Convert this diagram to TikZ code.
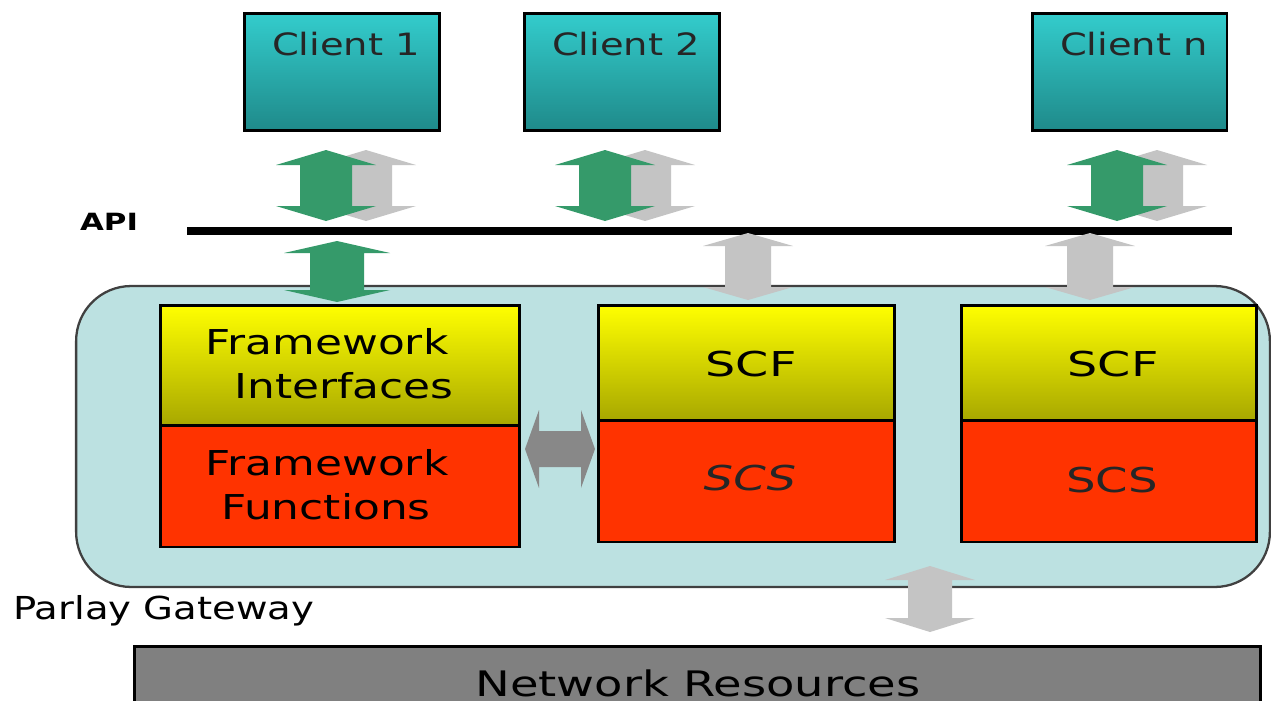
\documentclass[tikz,border=0pt]{standalone}
\usepackage{fontspec}
\setmainfont{DejaVu Sans}
\definecolor{tealtop}{HTML}{33CCCC}
\definecolor{tealbot}{HTML}{1F8A8A}
\definecolor{arrgreen}{HTML}{359A6A}
\definecolor{arrlight}{HTML}{C4C4C4}
\definecolor{arrdark}{HTML}{888888}
\definecolor{gwfill}{HTML}{BCE1E1}
\definecolor{yelltop}{HTML}{FFFF00}
\definecolor{yellmid}{HTML}{EDED00}
\definecolor{yellbot}{HTML}{A8A800}
\definecolor{redfill}{HTML}{FF3300}
\definecolor{netfill}{HTML}{808080}
\newcommand\wide[2]{\scalebox{#1}[1]{#2}}
% vertical double block arrow: cx, ytop, ybot, shaft half, head half, head length, colour
\newcommand\vdarrow[7]{%
  \fill[#7] (#1,#2) -- ({#1+#5},{#2+#6}) -- ({#1+#4},{#2+#6}) -- ({#1+#4},{#3-#6})
   -- ({#1+#5},{#3-#6}) -- (#1,#3) -- ({#1-#5},{#3-#6}) -- ({#1-#4},{#3-#6})
   -- ({#1-#4},{#2+#6}) -- ({#1-#5},{#2+#6}) -- cycle;}
% horizontal double block arrow: cy, xleft, xright, shaft half, head half, head length, colour
\newcommand\hdarrow[7]{%
  \fill[#7] (#2,#1) -- ({#2+#6},{#1-#5}) -- ({#2+#6},{#1-#4}) -- ({#3-#6},{#1-#4})
   -- ({#3-#6},{#1-#5}) -- (#3,#1) -- ({#3-#6},{#1+#5}) -- ({#3-#6},{#1+#4})
   -- ({#2+#6},{#1+#4}) -- ({#2+#6},{#1+#5}) -- cycle;}
\begin{document}
\begin{tikzpicture}[x=0.02cm,y=-0.02cm,
  client/.style={draw=black, line width=1.7pt, top color=tealtop, bottom color=tealbot,
    minimum width=3.9cm, minimum height=2.34cm, inner sep=0pt},
  upper/.style={draw=black, line width=1.7pt, top color=yelltop, middle color=yellmid, bottom color=yellbot,
    inner sep=0pt, align=center},
  lower/.style={draw=black, line width=1.7pt, fill=redfill, inner sep=0pt, align=center},
  ctext/.style={font=\fontsize{17.5}{20}\selectfont, text=black!85, inner sep=0pt},
  btext/.style={font=\fontsize{19.5}{25}\selectfont, inner sep=0pt, align=center},
]
\clip (0,0) rectangle (1271,700);
\fill[white] (0,0) rectangle (1271,700);

% clients
\node[client] (c1) at (342,72) {};
\node[client] (c2) at (622,72) {};
\node[client] (cn) at (1129.5,72) {};
\node[ctext] (c1t) at (346,44) {\wide{1.25}{Client 1}};
\node[ctext] (c2t) at (626,44) {\wide{1.25}{Client 2}};
\node[ctext] (cnt) at (1134,44) {\wide{1.25}{Client n}};

% arrows between clients and API
\vdarrow{366}{150}{221}{26}{50}{15}{arrlight}
\vdarrow{326}{150}{221}{26}{50}{15}{arrgreen}
\vdarrow{645}{150}{221}{26}{50}{15}{arrlight}
\vdarrow{605}{150}{221}{26}{50}{15}{arrgreen}
\vdarrow{1157}{150}{221}{26}{50}{15}{arrlight}
\vdarrow{1117}{150}{221}{26}{50}{15}{arrgreen}

% API line
\coordinate (apiL) at (187,231);
\coordinate (apiR) at (1232,231);
\draw[line width=4.4pt] (apiL) -- (apiR);
\node[font=\fontsize{13.5}{15}\selectfont\bfseries, inner sep=0pt] (api) at (109,222) {\wide{1.3}{API}};

% gateway
\node[draw=black!75, line width=1.3pt, fill=gwfill, rounded corners=1.1cm,
  minimum width=23.88cm, minimum height=6.02cm, inner sep=0pt] (gw) at (673,436.5) {};

% arrows between API and gateway
\vdarrow{748}{233}{300}{23}{45}{13}{arrlight}
\vdarrow{1090}{233}{300}{23}{45}{13}{arrlight}
\vdarrow{337}{241}{302}{27}{53}{12}{arrgreen}

% framework block
\node[upper, minimum width=7.2cm, minimum height=2.4cm] (fi) at (340,365) {};
\node[lower, minimum width=7.2cm, minimum height=2.44cm] (ff) at (340,486) {};
\node[btext] (fit1) at (327,342) {\wide{1.28}{Framework}};
\node[btext] (fit2) at (344,386) {\wide{1.28}{Interfaces}};
\node[btext] (fft1) at (327,463) {\wide{1.28}{Framework}};
\node[btext] (fft2) at (326,507) {\wide{1.28}{Functions}};

% SCF / SCS blocks
\node[upper, minimum width=5.94cm, minimum height=2.3cm] (scf1) at (746.5,362.5) {};
\node[lower, minimum width=5.94cm, minimum height=2.44cm] (scs1) at (746.5,481) {};
\node[upper, minimum width=5.92cm, minimum height=2.3cm] (scf2) at (1109,362.5) {};
\node[lower, minimum width=5.92cm, minimum height=2.44cm] (scs2) at (1109,481) {};
\node[btext] (scf1t) at (751,364) {\wide{1.39}{SCF}};
\node[btext, text=black!85] (scs1t) at (750,478) {\wide{1.36}{\textit{SCS}}};
\node[btext] (scf2t) at (1113,364) {\wide{1.39}{SCF}};
\node[btext, text=black!85] (scs2t) at (1112,480) {\wide{1.36}{SCS}};

% horizontal arrow between framework and SCS
\hdarrow{449}{525}{595}{18}{39}{14}{arrdark}

% arrow to network resources
\vdarrow{930}{566}{632}{22}{45}{14}{arrlight}

\node[font=\fontsize{18}{20}\selectfont, anchor=west, inner sep=0pt] (pg) at (13,611) {\wide{1.22}{Parlay Gateway}};

% network resources
\node[draw=black, line width=1.7pt, fill=netfill, minimum width=22.52cm, minimum height=1.5cm,
  inner sep=0pt, anchor=north west] (net) at (133,645) {};
\node[font=\fontsize{20}{22}\selectfont, inner sep=0pt] (nett) at (698,683) {\wide{1.32}{Network Resources}};
\end{tikzpicture}
\end{document}
